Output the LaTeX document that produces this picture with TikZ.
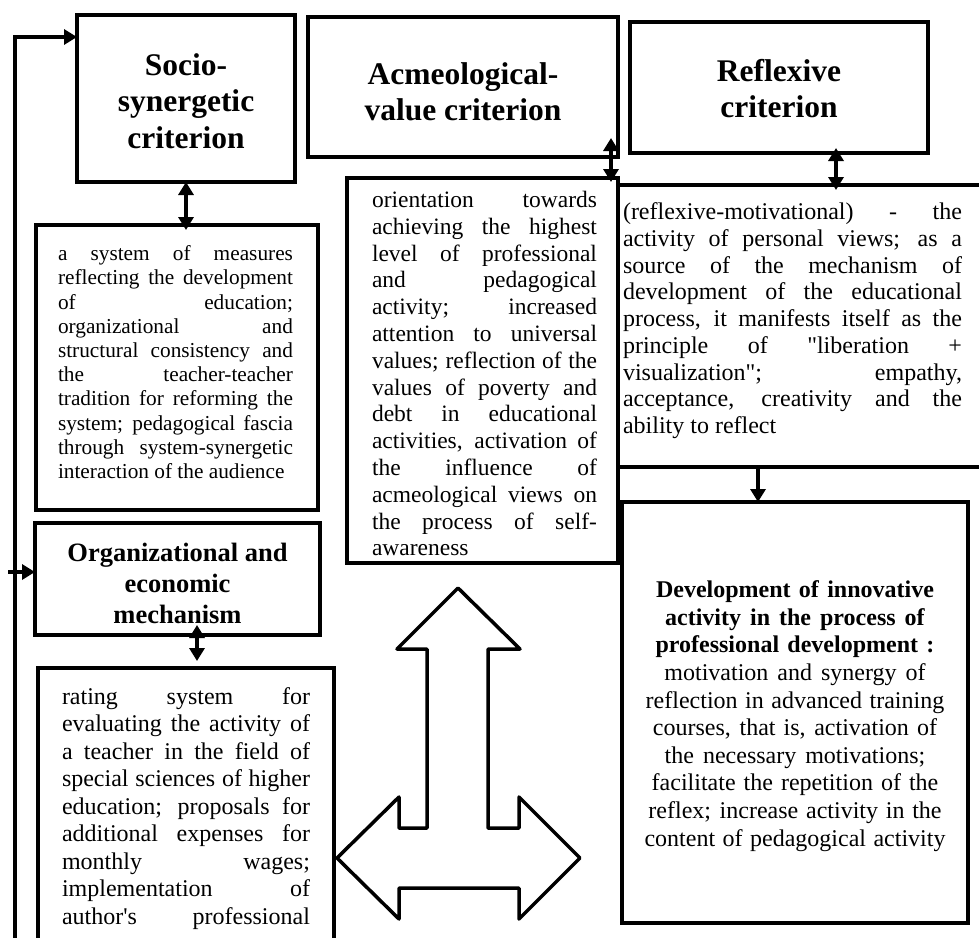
\documentclass[tikz,border=0pt]{standalone}
\usepackage{fontspec}
\setmainfont{Liberation Serif}[Ligatures=TeXOff]
\usetikzlibrary{arrows.meta,calc}
\newcommand\SP{\spaceskip=.25em plus .15em minus .05em\xspaceskip=0pt\relax}
\newcommand\JL[1]{\hbox to \hsize{\spaceskip=.25em plus 3em minus .05em\xspaceskip=0pt\relax #1}}
\begin{document}
\begin{tikzpicture}[x=1pt,y=-1pt,
  frame/.style={draw,line width=4pt,inner sep=0pt,outer sep=0pt,anchor=north west},
  ttl/.style={font=\fontsize{31.5}{36.5}\selectfont\bfseries,align=center,inner sep=0pt,anchor=north},
  body/.style={inner sep=0pt,anchor=north},
  arr/.style={line width=3.5pt,-{Triangle[length=13pt,width=15pt]}},
  dbl/.style={line width=3.5pt,{Triangle[length=13pt,width=15pt]}-{Triangle[length=13pt,width=15pt]}},
  bigarrow/.style={line width=3.5pt,line join=round,fill=white}]
\useasboundingbox (0,0) rectangle (979,937);

% frames
\node[frame,minimum width=218pt,minimum height=167pt] (soc) at (77,15) {};
\node[frame,minimum width=310pt,minimum height=140pt] (acm) at (308,17) {};
\node[frame,minimum width=298pt,minimum height=131pt] (ref) at (630,22) {};
\node[frame,minimum width=282pt,minimum height=285pt] (socd) at (36,225) {};
\node[frame,minimum width=285pt,minimum height=112pt] (org) at (35,523) {};
\node[frame,minimum width=296pt,minimum height=300pt] (rate) at (38,668) {};
\node[frame,minimum width=271pt,minimum height=385pt] (acmd) at (347,178) {};
\node[frame,minimum width=400pt,minimum height=282pt] (refd) at (618,185) {};
\node[frame,minimum width=346pt,minimum height=421pt] (dev) at (622,502) {};

% titles
\node[ttl] (soct) at (186,53) {\SP Socio-\\synergetic\\criterion};
\node[ttl] (acmt) at (463,62) {\SP Acmeological-\\value criterion};
\node[ttl] (reft) at (779,59) {\SP Reflexive\\criterion};
\node[ttl,font=\fontsize{26.5}{31}\selectfont\bfseries] (orgt) at (177.5,543) {\SP Organizational and\\economic\\mechanism};

% bodies
\node[body,text width=235pt,font=\fontsize{21.3}{24.2}\selectfont] (socdt) at (175.5,245.5) {\SP
\JL{a system of measures}
\JL{reflecting the development}
\JL{of education;}
\JL{organizational and}
\JL{structural consistency and}
\JL{the teacher-teacher}
\JL{tradition for reforming the}
\JL{system; pedagogical fascia}
\JL{through system-synergetic}
\noindent interaction of the audience};

\node[body,text width=225pt,font=\fontsize{23.5}{26.8}\selectfont] (acmdt) at (484.5,191) {\SP
\JL{orientation towards}
\JL{achieving the highest}
\JL{level of professional}
\JL{and pedagogical}
\JL{activity; increased}
\JL{attention to universal}
\JL{values; reflection of the}
\JL{values of poverty and}
\JL{debt in educational}
\JL{activities, activation of}
\JL{the influence of}
\JL{acmeological views on}
\JL{the process of self-}
\noindent awareness};

\node[body,text width=339pt,font=\fontsize{24}{26.75}\selectfont] (refdt) at (792.5,202.5) {\SP
\JL{(reflexive-motivational) - the}
\JL{activity of personal views; as a}
\JL{source of the mechanism of}
\JL{development of the educational}
\JL{process, it manifests itself as the}
\JL{principle of "liberation +}
\JL{visualization"; empathy,}
\JL{acceptance, creativity and the}
\noindent ability to reflect};

\node[body,text width=248pt,font=\fontsize{24}{27.5}\selectfont] (ratet) at (186,687) {\SP
\JL{rating system for}
\JL{evaluating the activity of}
\JL{a teacher in the field of}
\JL{special sciences of higher}
\JL{education; proposals for}
\JL{additional expenses for}
\JL{monthly wages;}
\JL{implementation of}
\JL{author's professional}};

\node[body,text width=340pt,align=center,font=\fontsize{24}{27.6}\selectfont] (devt) at (795,580.5) {\SP
\textbf{Development of innovative}\\
\textbf{activity in the process of}\\
\textbf{professional development :}\\
motivation and synergy of\\
reflection in advanced training\\
courses, that is, activation of\\
the necessary motivations;\\
facilitate the repetition of the\\
reflex; increase activity in the\\
content of pedagogical activity};

% connectors
\draw[dbl] (soc.south) -- ($(soc.south |- socd.north)+(0,5)$);
\draw[dbl] ($(acm.south east)+(-7,-19)$) -- ($(acmd.north east)+(-7,4)$);
\draw[dbl] ($(ref.south)+(57,-5)$) -- ($(ref.south |- refd.north)+(57,5)$);
\draw[arr] ($(refd.south west)+(140,0)$) -- ($(refd.south west |- dev.north)+(140,0)$);
\draw[dbl] ($(org.south)+(19.5,-10)$) -- ($(org.south |- rate.north)+(19.5,-7)$);

\coordinate (fbA) at (15,950);
\coordinate (fbB) at (8,572);
\draw[arr] (fbA) |- ($(soc.north west)+(0,22)$);
\draw[arr] (fbB) -- ($(org.west)+(0,-7)$);

% three-way block arrow
\draw[bigarrow] (458,588) -- (520,649) -- (488,649) -- (488,828) -- (519,828) -- (519,797)
  -- (580,858) -- (519,919) -- (519,888) -- (399,888) -- (399,919) -- (337,858)
  -- (399,797) -- (399,828) -- (427,828) -- (427,649) -- (397,649) -- cycle;
\end{tikzpicture}
\end{document}
